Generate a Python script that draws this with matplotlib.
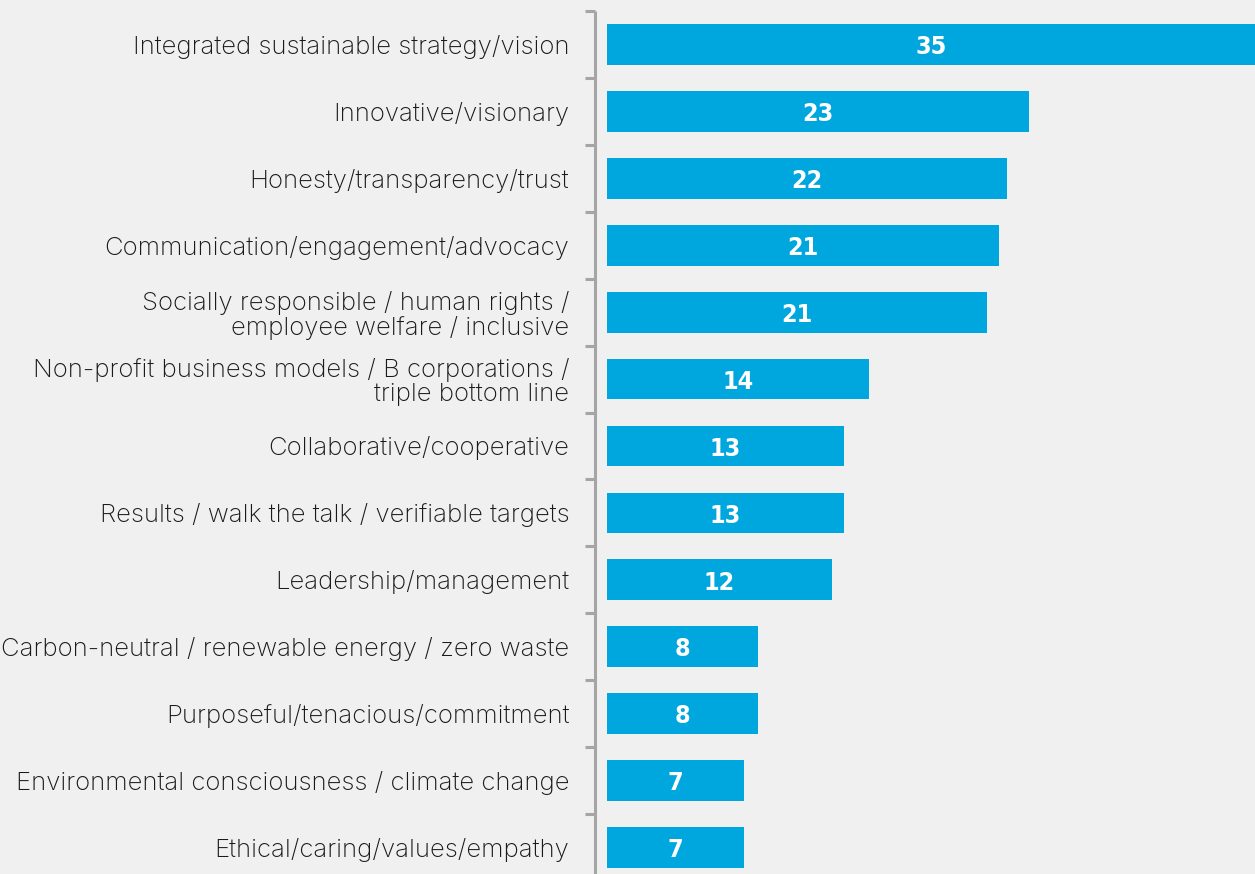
import numpy as np
import matplotlib.pyplot as plt

categories = [
    "Integrated sustainable strategy/vision",
    "Innovative/visionary",
    "Honesty/transparency/trust",
    "Communication/engagement/advocacy",
    "Socially responsible / human rights /\nemployee welfare / inclusive",
    "Non-profit business models / B corporations /\ntriple bottom line",
    "Collaborative/cooperative",
    "Results / walk the talk / verifiable targets",
    "Leadership/management",
    "Carbon-neutral / renewable energy / zero waste",
    "Purposeful/tenacious/commitment",
    "Environmental consciousness / climate change",
    "Ethical/caring/values/empathy",
]
# bar lengths, labels are the rounded figures shown
values = [35.4, 22.95, 21.75, 21.3, 20.65, 14.25, 12.85, 12.85, 12.2, 8.2, 8.2, 7.45, 7.45]
labels = ["35", "23", "22", "21", "21", "14", "13", "13", "12", "8", "8", "7", "7"]

bg = "#f0f0f0"
bar_color = "#00a6de"
axis_color = "#a5a5a5"

W, H = 1255, 874
fig = plt.figure(figsize=(W / 100, H / 100), dpi=100, facecolor=bg)

# axes placed in pixels: spine at x=595, top tick at y=11, bottom runs off the figure
left_px, right_px = 595, 1255
top_px, bottom_px = 11, 881
ax = fig.add_axes([left_px / W, (H - bottom_px) / H,
                   (right_px - left_px) / W, (bottom_px - top_px) / H])
ax.set_facecolor(bg)
ax.patch.set_alpha(0)

xmax = 35.2
ax.set_xlim(-0.65, xmax)
ax.set_ylim(len(categories) - 0.5, -0.5)

y = np.arange(len(categories))
ax.barh(y, values, height=0.61, left=0, color=bar_color, zorder=2)

for yi, v, lab in zip(y, values, labels):
    ax.text(min(v, xmax) / 2, yi + 0.04, lab, ha="center", va="center",
            color="white", fontsize=18, fontweight="bold",
            family="DejaVu Sans", fontstretch="condensed", zorder=3)

for s in ["top", "right", "bottom"]:
    ax.spines[s].set_visible(False)
ax.spines["left"].set_color(axis_color)
ax.spines["left"].set_linewidth(2.2)
ax.spines["left"].set_capstyle("butt")

ax.set_xticks([])
ax.set_yticks(np.arange(-0.5, len(categories)), labels=[])
ax.tick_params(axis="y", which="major", length=7.5, width=2.2, color=axis_color)
ax.set_yticks(y, labels=categories, minor=True)
ax.tick_params(axis="y", which="minor", length=0, pad=18.5)
for t in ax.get_yticklabels(minor=True):
    t.set_fontfamily("Inter")
    t.set_fontweight("light")
    t.set_fontsize(18.5)
    t.set_color("#1a1a1a")
    t.set_linespacing(1.05)

fig.savefig("out.png", dpi=100, facecolor=bg)
